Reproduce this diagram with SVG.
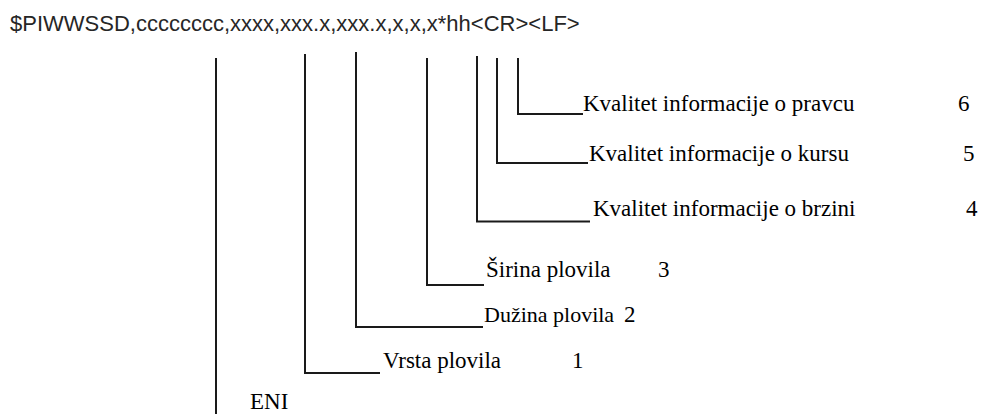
<svg xmlns="http://www.w3.org/2000/svg" width="981" height="414" viewBox="0 0 981 414">
<style>
.hdr{font-family:"Liberation Sans",Arial,sans-serif;font-size:22px;fill:#262626}
.lbl{font-family:"Liberation Serif","Times New Roman",serif;font-size:23px;fill:#000}
.con{fill:none;stroke:#1a1a1a;stroke-width:2}
</style>
<rect width="981" height="414" fill="#fff"/>
<g id="header"><text class="hdr" x="10" y="31">$PIWWSSD,cccccccc,xxxx,xxx.x,xxx.x,x,x,x*hh&lt;CR&gt;&lt;LF&gt;</text></g>
<g id="connectors">
<path class="con" d="M216,58V414"/>
<path class="con" d="M305,54V373H380"/>
<path class="con" d="M356,52V327H483"/>
<path class="con" d="M427,58V285H484"/>
<path class="con" d="M477,56V221.5H590"/>
<path class="con" d="M497,58V163H588"/>
<path class="con" d="M518,58V114H583"/>
</g>
<g id="n6"><text class="lbl" x="583" y="111">Kvalitet informacije o pravcu</text><text class="lbl" x="958" y="111">6</text></g>
<g id="n5"><text class="lbl" x="589" y="161">Kvalitet informacije o kursu</text><text class="lbl" x="963" y="161">5</text></g>
<g id="n4"><text class="lbl" x="593" y="216">Kvalitet informacije o brzini</text><text class="lbl" x="966" y="216">4</text></g>
<g id="n3"><text class="lbl" x="486" y="277">Širina plovila</text><text class="lbl" x="658" y="277">3</text></g>
<g id="n2"><text class="lbl" x="484" y="322" style="font-size:22px">Dužina plovila</text><text class="lbl" x="624" y="322">2</text></g>
<g id="n1"><text class="lbl" x="383" y="368">Vrsta plovila</text><text class="lbl" x="572" y="368">1</text></g>
<g id="eni"><text class="lbl" x="250" y="409">ENI</text></g>
</svg>
